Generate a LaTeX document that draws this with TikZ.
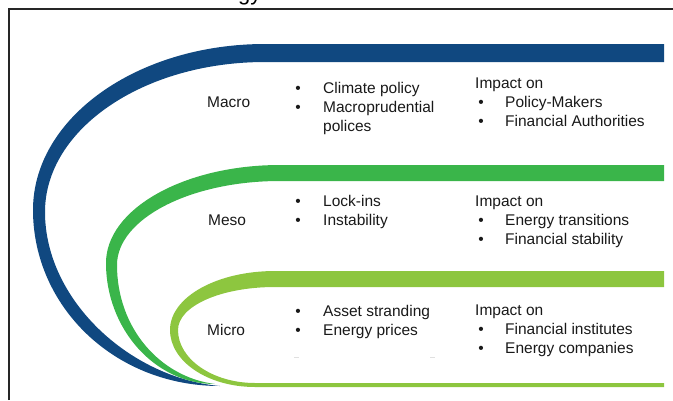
\documentclass[tikz,border=0pt]{standalone}
\usepackage{fontspec}
\setmainfont{Liberation Sans}
\definecolor{macroblue}{RGB}{16,72,128}
\definecolor{mesogreen}{RGB}{58,181,74}
\definecolor{microgreen}{RGB}{141,198,63}
\begin{document}
\begin{tikzpicture}[x=1pt,y=-1pt,
  lbl/.style={anchor=base west, inner sep=0pt, font=\fontsize{15.5}{19}\selectfont, text=black!90},
  dot/.style={anchor=base, inner sep=0pt, font=\fontsize{15.5}{19}\selectfont, text=black!90},
  frameline/.style={draw=black!85, line width=1.3pt},
  faint/.style={draw=black!12, line width=1pt}]
\useasboundingbox (0,0) rectangle (673,400);
\clip (0,0) rectangle (673,400);

% frame
\draw[frameline] (9,400) -- (9,9) -- (673,9);
% heading, mostly above the page
\node[anchor=base west, inner sep=0pt, font=\fontsize{22}{26}\selectfont] (title) at (238,0.5) {gy};

% macro band
\fill[macroblue] (220,386) .. controls (114,386) and (33,306) .. (33,210)
  .. controls (33,118) and (137,44) .. (265,44) -- (664,44) -- (664,62) -- (265,62)
  .. controls (143.5,62) and (45,129) .. (45,212)
  .. controls (45,300) and (130,378) .. (220,386) -- cycle;

% meso band
\fill[mesogreen] (215,384) .. controls (155,384) and (106,329) .. (106,263)
  .. controls (106,209) and (184,165) .. (280,165) -- (664,165) -- (664,181) -- (280,181)
  .. controls (190,181) and (117,219) .. (117,265)
  .. controls (117,328) and (160,377) .. (215,384) -- cycle;

% micro band and base line
\fill[microgreen] (664,271) -- (275,271) .. controls (217,271) and (170,297) .. (170,330)
  .. controls (170,361.5) and (208,387) .. (255,387) -- (664,387) -- (664,383) -- (255,383)
  .. controls (212.5,383) and (178,359) .. (178,330)
  .. controls (178,306) and (221,287) .. (275,287) -- (664,287) -- cycle;

% small marks
\draw[faint] (294,357) -- (299,357);
\draw[faint] (430,357) -- (435,357);

% macro texts
\node[lbl] (macro) at (207,107) {Macro};
\node[dot] (mab1) at (298,93) {•};
\node[lbl] (ma1) at (323,93) {Climate policy};
\node[dot] (mab2) at (298,112) {•};
\node[lbl] (ma2) at (323,112) {Macroprudential};
\node[lbl] (ma3) at (323,131) {polices};
\node[lbl] (maimp) at (475,88) {Impact on};
\node[dot] (mib1) at (481,107) {•};
\node[lbl] (mi1) at (505,107) {Policy-Makers};
\node[dot] (mib2) at (481,126) {•};
\node[lbl] (mi2) at (505,126) {Financial Authorities};

% meso texts
\node[lbl] (meso) at (208,225) {Meso};
\node[dot] (meb1) at (298,206) {•};
\node[lbl] (me1) at (323,206) {Lock-ins};
\node[dot] (meb2) at (298,225) {•};
\node[lbl] (me2) at (323,225) {Instability};
\node[lbl] (meimp) at (475,206) {Impact on};
\node[dot] (mjb1) at (481,225) {•};
\node[lbl] (mj1) at (505,225) {Energy transitions};
\node[dot] (mjb2) at (481,244) {•};
\node[lbl] (mj2) at (505,244) {Financial stability};

% micro texts
\node[lbl] (micro) at (207,335) {Micro};
\node[dot] (mcb1) at (298,316) {•};
\node[lbl] (mc1) at (323,316) {Asset stranding};
\node[dot] (mcb2) at (298,335) {•};
\node[lbl] (mc2) at (323,335) {Energy prices};
\node[lbl] (mcimp) at (475,315) {Impact on};
\node[dot] (mkb1) at (481,334) {•};
\node[lbl] (mk1) at (505,334) {Financial institutes};
\node[dot] (mkb2) at (481,353) {•};
\node[lbl] (mk2) at (505,353) {Energy companies};
\end{tikzpicture}
\end{document}
